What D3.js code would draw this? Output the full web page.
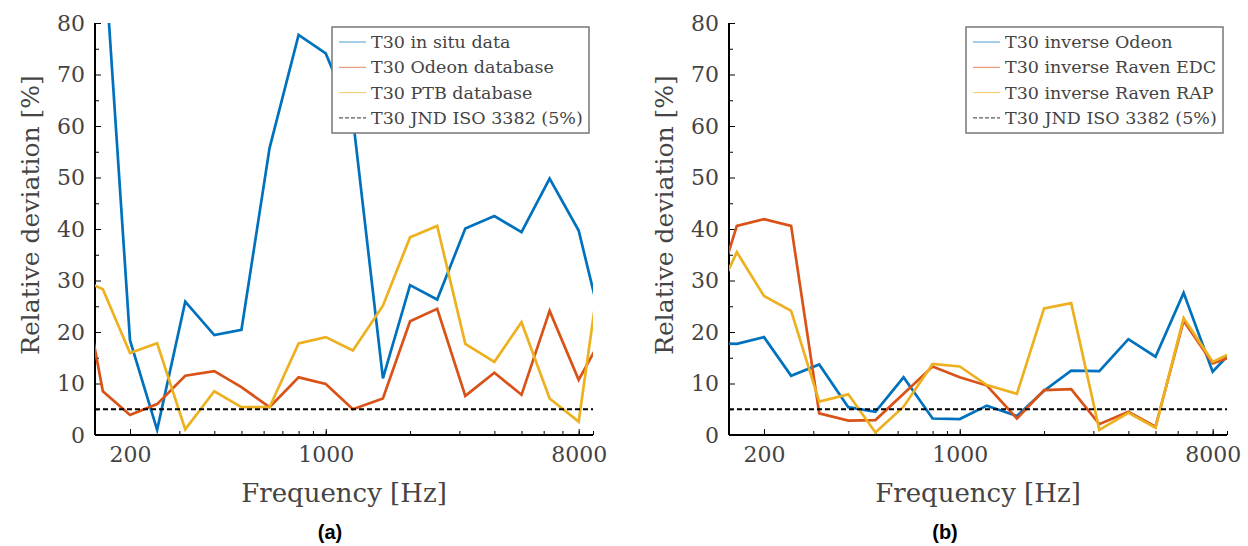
<!DOCTYPE html>
<html>
<head>
<meta charset="utf-8">
<script src="https://cdn.jsdelivr.net/npm/d3@7"></script>
<style>
  body { margin: 0; background: #fff; }
</style>
</head>
<body>
<div id="chart"></div>
<script>
// 1/3 octave band centre frequencies (Hz)
var freqs = [125, 160, 200, 250, 315, 400, 500, 630, 800, 1000, 1250, 1600, 2000, 2500, 3150, 4000, 5000, 6300, 8000, 10000];

// panel (a)
var inSitu   = [95, 98, 18.4, 1.0, 25.9, 19.4, 20.4, 55.7, 77.7, 74.1, 61.5, 11.0, 29.1, 26.3, 40.1, 42.5, 39.4, 49.8, 39.7, 18];
var odeonDb  = [39.5, 8.5, 3.9, 6.0, 11.5, 12.4, 9.3, 5.4, 11.2, 9.9, 5.0, 7.1, 22.1, 24.5, 7.6, 12.1, 7.8, 24.1, 10.7, 20.3];
var ptbDb    = [31, 28.3, 15.9, 17.8, 1.1, 8.5, 5.4, 5.4, 17.8, 19.0, 16.4, 25.1, 38.4, 40.6, 17.7, 14.2, 21.9, 7.1, 2.6, 40];

// panel (b)
var invOdeon = [17.8, 17.7, 19.0, 11.5, 13.7, 5.4, 4.5, 11.2, 3.2, 3.1, 5.7, 3.7, 8.6, 12.5, 12.4, 18.6, 15.2, 27.6, 12.3, 17.9];
var invEdc   = [22, 40.6, 41.9, 40.6, 4.2, 2.8, 2.9, 8.0, 13.3, 11.2, 9.6, 3.2, 8.7, 8.9, 2.1, 4.5, 1.6, 22.2, 13.9, 15.8];
var invRap   = [23, 35.5, 27.0, 24.1, 6.5, 7.9, 0.5, 5.5, 13.8, 13.3, 9.7, 8.0, 24.6, 25.6, 1.0, 4.3, 1.4, 22.7, 14.2, 16.7];

var jnd = 5;
var legendA = ["T30 in situ data", "T30 Odeon database", "T30 PTB database", "T30 JND ISO 3382 (5%)"];
var legendB = ["T30 inverse Odeon", "T30 inverse Raven EDC", "T30 inverse Raven RAP", "T30 JND ISO 3382 (5%)"];
var xTicks = [200, 1000, 8000];
var xMinor = [200, 300, 400, 500, 600, 700, 800, 900, 1000, 2000, 3000, 4000, 5000, 6000, 7000, 8000, 9000];
var yTicks = [0, 10, 20, 30, 40, 50, 60, 70, 80];
var yMinor = [5, 15, 25, 35, 45, 55, 65, 75];
var colors = ["#0072BD", "#D95319", "#EDB120"];

var serifFont = "'DejaVu Serif', 'Liberation Serif', 'Noto Serif', serif";
var textColor = "#444";

var W = 1248, H = 546;
var pw = 498, ph = 412, plotTop = 23;

var svg = d3.select("#chart").append("svg")
  .attr("width", W).attr("height", H);

var x = d3.scaleLog().domain([150, 9000]).range([0, pw]);
var y = d3.scaleLinear().domain([0, 80]).range([ph, 0]);

function drawPanel(left, series, labels, tag, tagX, id) {
  var g = svg.append("g").attr("transform", "translate(" + left + "," + plotTop + ")");

  g.append("clipPath").attr("id", "clip" + id)
    .append("rect").attr("width", pw).attr("height", ph);

  // axes (ticks point inward)
  g.append("g")
    .attr("transform", "translate(0," + ph + ")")
    .call(d3.axisTop(x).tickValues(xMinor).tickSize(4).tickFormat(""))
    .call(function(s) { s.select(".domain").remove(); s.selectAll("line").attr("stroke", "#000"); });
  g.append("g")
    .call(d3.axisRight(y).tickValues(yMinor).tickSize(4).tickFormat(""))
    .call(function(s) { s.select(".domain").remove(); s.selectAll("line").attr("stroke", "#000"); });

  var xa = g.append("g")
    .attr("transform", "translate(0," + ph + ")")
    .call(d3.axisTop(x).tickValues(xTicks).tickSize(6).tickFormat(d3.format("d")));
  xa.select(".domain").remove();
  xa.selectAll("line").attr("stroke", "#000");
  xa.selectAll("text").attr("y", 27).attr("dy", 0).attr("class", "lbl").style("font-size", "22px");

  var ya = g.append("g")
    .call(d3.axisRight(y).tickValues(yTicks).tickSize(6));
  ya.select(".domain").remove();
  ya.selectAll("line").attr("stroke", "#000");
  ya.selectAll("text").attr("x", -10).attr("dy", "0.34em").attr("class", "lbl")
    .attr("text-anchor", "end").style("font-size", "22px");

  g.append("line").attr("x1", 0).attr("x2", 0).attr("y1", 0).attr("y2", ph)
    .attr("stroke", "#000").attr("stroke-width", 2);
  g.append("line").attr("x1", 0).attr("x2", pw).attr("y1", ph).attr("y2", ph)
    .attr("stroke", "#000").attr("stroke-width", 2);

  // data lines
  var line = d3.line()
    .x(function(d, i) { return x(freqs[i]); })
    .y(function(d) { return y(d); });
  var plot = g.append("g").attr("clip-path", "url(#clip" + id + ")");
  series.forEach(function(s, k) {
    plot.append("path").datum(s)
      .attr("fill", "none")
      .attr("stroke", colors[k])
      .attr("stroke-width", 2.7)
      .attr("stroke-linejoin", "miter")
      .attr("d", line);
  });
  plot.append("line")
    .attr("x1", 0).attr("x2", pw)
    .attr("y1", y(jnd)).attr("y2", y(jnd))
    .attr("stroke", "#000").attr("stroke-width", 2)
    .attr("stroke-dasharray", "5,3");

  // legend
  var lg = g.append("g").attr("transform", "translate(237,4)");
  lg.append("rect").attr("width", 257).attr("height", 106)
    .attr("fill", "#fff").attr("stroke", "#777").attr("stroke-width", 1.5);
  labels.forEach(function(t, k) {
    var ry = 15 + k * 25.3;
    lg.append("line").attr("x1", 7).attr("x2", 34).attr("y1", ry).attr("y2", ry)
      .attr("stroke", k < 3 ? colors[k] : "#333")
      .attr("stroke-opacity", k < 3 ? 0.7 : 1)
      .attr("stroke-width", 1)
      .attr("stroke-dasharray", k < 3 ? null : "4,2");
    lg.append("text").attr("class", "lbl").attr("x", 39).attr("y", ry).attr("dy", "0.34em")
      .style("font-size", "17.5px").text(t);
  });

  // axis titles
  g.append("text").attr("class", "lbl")
    .attr("transform", "translate(-65," + (215 - plotTop) + ") rotate(-90)")
    .attr("text-anchor", "middle").attr("dy", "0.34em")
    .style("font-size", "25px")
    .text("Relative deviation [%]");
  g.append("text").attr("class", "lbl")
    .attr("x", pw / 2).attr("y", 502 - plotTop)
    .attr("text-anchor", "middle")
    .style("font-size", "26px")
    .text("Frequency [Hz]");
  g.append("text")
    .attr("x", tagX).attr("y", 539 - plotTop)
    .attr("text-anchor", "middle")
    .style("font-family", "'Liberation Sans', Arial, sans-serif")
    .style("font-weight", "bold")
    .style("font-size", "20px")
    .style("fill", "#000")
    .text(tag);
}

drawPanel(95, [inSitu, odeonDb, ptbDb], legendA, "(a)", 235, "a");
drawPanel(729, [invOdeon, invEdc, invRap], legendB, "(b)", 216, "b");

svg.selectAll("text.lbl")
  .style("font-family", serifFont)
  .style("fill", textColor);
</script>
</body>
</html>
